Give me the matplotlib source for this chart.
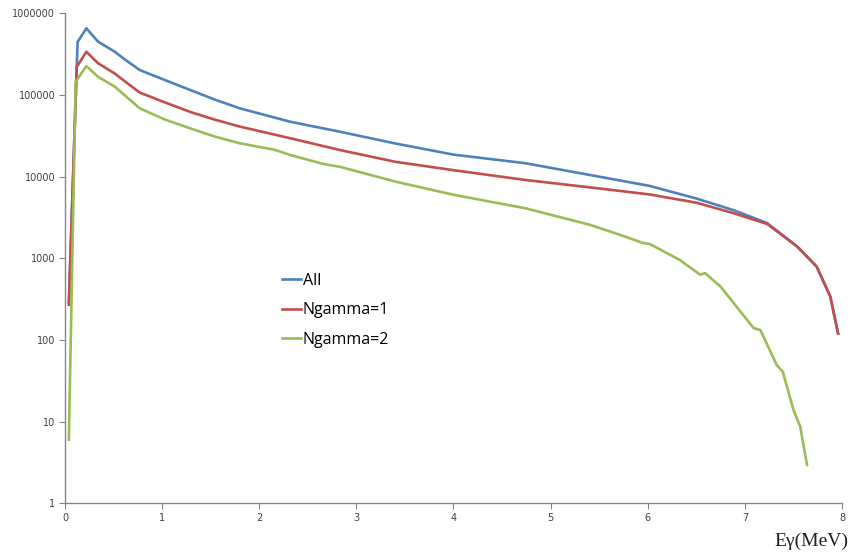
import matplotlib
matplotlib.use("Agg")
import matplotlib.pyplot as plt
from matplotlib.ticker import FixedLocator, FixedFormatter, NullLocator

# energy (MeV) and counts
energy_all = [0.04, 0.13, 0.22, 0.34, 0.51, 0.62, 0.77, 1.03, 1.29, 1.54, 1.80, 2.32,
              2.83, 3.4, 4.0, 4.74, 5.4, 6.02, 6.5, 6.88, 7.23, 7.54, 7.74, 7.88, 7.96]
counts_all = [286, 446000, 655000, 450000, 340000, 270000, 202000, 152000, 115000, 88000,
              68600, 47000, 35500, 25500, 18600, 14600, 10500, 7700, 5400, 3900, 2700,
              1390, 790, 340, 120]

energy_n1 = [0.04, 0.12, 0.22, 0.34, 0.51, 0.62, 0.77, 1.03, 1.29, 1.54, 1.80, 2.32,
             2.83, 3.4, 4.0, 4.74, 5.4, 6.02, 6.5, 6.88, 7.23, 7.54, 7.74, 7.88, 7.96]
counts_n1 = [270, 220000, 338000, 245000, 184000, 146000, 107000, 81000, 62000, 50000,
             41000, 29500, 21200, 15200, 12000, 9100, 7400, 6050, 4800, 3580, 2630,
             1390, 790, 340, 120]

energy_n2 = [0.04, 0.11, 0.22, 0.34, 0.51, 0.62, 0.77, 1.03, 1.29, 1.54, 1.80, 2.16,
             2.32, 2.66, 2.83, 3.4, 4.0, 4.74, 5.41, 5.72, 5.95, 6.02, 6.33, 6.54, 6.59,
             6.75, 7.09, 7.16, 7.33, 7.39, 7.5, 7.57, 7.64]
counts_n2 = [6, 145000, 226000, 167000, 127000, 98000, 68600, 50000, 39000, 31000,
             25600, 21300, 18400, 14300, 13200, 8700, 6000, 4100, 2560, 1930, 1540, 1500,
             955, 630, 660, 450, 140, 132, 49, 41, 14, 8.7, 2.95]

x_ticks = [0, 1, 2, 3, 4, 5, 6, 7, 8]
y_ticks = [1, 10, 100, 1000, 10000, 100000, 1000000]

fig = plt.figure(figsize=(8.64, 5.52), dpi=100)
ax = fig.add_axes([0.0752, 0.0882, 0.8993, 0.8877])

ax.plot(energy_all, counts_all, color="#4F81BD", lw=1.9, label="All")
ax.plot(energy_n1, counts_n1, color="#C0504D", lw=1.9, label="Ngamma=1")
ax.plot(energy_n2, counts_n2, color="#9BBB59", lw=1.9, label="Ngamma=2")

ax.set_yscale("log")
ax.set_xlim(0, 8)
ax.set_ylim(1, 1000000)
ax.yaxis.set_major_locator(FixedLocator(y_ticks))
ax.yaxis.set_major_formatter(FixedFormatter([str(v) for v in y_ticks]))
ax.yaxis.set_minor_locator(NullLocator())
ax.set_xticks(x_ticks)

for s in ["top", "right"]:
    ax.spines[s].set_visible(False)
for s in ["left", "bottom"]:
    ax.spines[s].set_color("#868686")
    ax.spines[s].set_linewidth(1.0)
ax.tick_params(axis="both", direction="out", length=4, color="#868686",
               labelsize=7, labelcolor="#404040", pad=3)

ax.text(1.008, -0.06, "E\u03b3(MeV)", transform=ax.transAxes, ha="right", va="top",
        fontsize=14, family="Liberation Serif", color="#202020")

leg = ax.legend(loc="upper left", bbox_to_anchor=(0.261, 0.5), frameon=False,
                handlelength=1.15, handletextpad=0.15, labelspacing=0.85,
                prop={"family": "Open Sans", "size": 11.5})

fig.savefig("out.png", dpi=100)
